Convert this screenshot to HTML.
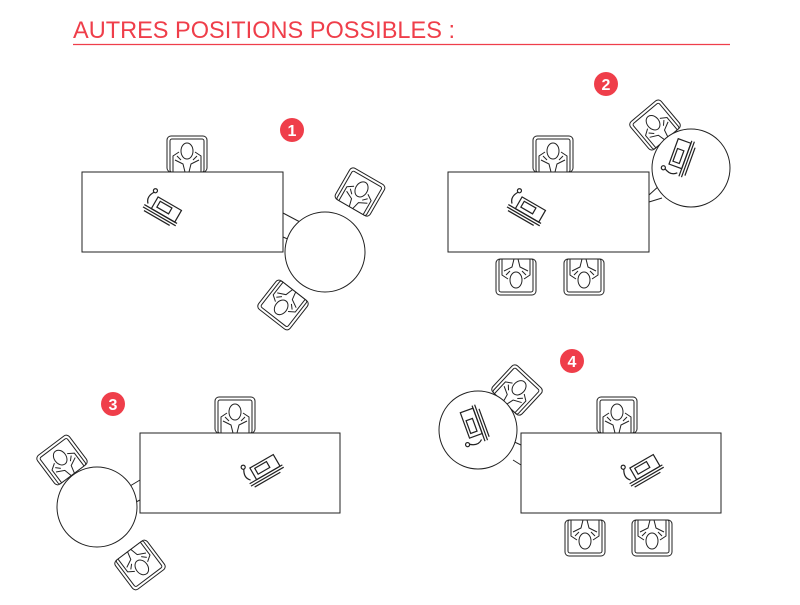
<!DOCTYPE html>
<html><head><meta charset="utf-8"><style>
body{margin:0;background:#fff;width:800px;height:600px;overflow:hidden}
</style></head><body>
<svg width="800" height="600" viewBox="0 0 800 600" xmlns="http://www.w3.org/2000/svg">
<defs>
<g id="ch" fill="#fff" stroke="#222" stroke-width="1">
  <rect x="-20" y="-18" width="40" height="36" rx="4"/>
  <rect x="-17" y="-15" width="34" height="33" rx="2"/>
  <path d="M-14 18 L-14 2 L-8 -2 M14 18 L14 2 L8 -2" fill="none"/>
  <path d="M-12 6 L-4 10 L-2 18 M12 6 L4 10 L2 18" fill="none"/>
  <ellipse cx="0" cy="-3" rx="6" ry="8"/>
  <path d="M-10 2 L-6 6 M10 2 L6 6" fill="none"/>
</g>
<g id="pc" fill="#fff" stroke="#222" stroke-width="0.9">
  <rect x="-6" y="-12" width="20" height="10"/>
  <rect x="-3" y="-10" width="10" height="5"/>
  <path d="M-12 -2 L16 -2 M-12 0 L16 0 M-10 2 L12 2" fill="none"/>
  <path d="M-10 -4 Q-14 -8 -10 -14" fill="none"/>
  <circle cx="-10" cy="-15" r="1.5"/>
</g>
</defs>
<text x="73" y="38" font-family="Liberation Sans, sans-serif" font-size="24" fill="#ef3e4a" textLength="382" lengthAdjust="spacingAndGlyphs">AUTRES POSITIONS POSSIBLES :</text>
<line x1="73" y1="44.5" x2="730" y2="44.5" stroke="#ef3e4a" stroke-width="1.2"/>

<g stroke="#222" stroke-width="1" fill="#fff">
<!-- Panel 1 -->
<use href="#ch" transform="translate(187,154)"/>
<path d="M283 213 L300 222 M283 237 L290 240"/>
<rect x="82" y="172" width="201" height="80"/>
<circle cx="325" cy="252" r="40"/>
<use href="#ch" transform="translate(360,192) rotate(30)"/>
<use href="#ch" transform="translate(283,305) rotate(218)"/>
<use href="#pc" transform="translate(157,215) rotate(30) scale(1.35)"/>

<!-- Panel 2 -->
<use href="#ch" transform="translate(553,154)"/>
<use href="#ch" transform="translate(516,277) rotate(180)"/>
<use href="#ch" transform="translate(584,277) rotate(180)"/>
<use href="#ch" transform="translate(655,125) rotate(-40)"/>
<path d="M649 195 L660 185 M649 202 L662 198"/>
<rect x="448" y="172" width="201" height="80"/>
<circle cx="691" cy="168" r="39"/>
<use href="#pc" transform="translate(521,215) rotate(30) scale(1.35)"/>
<use href="#pc" transform="translate(687,162) rotate(-70) scale(1.35)"/>

<!-- Panel 3 -->
<use href="#ch" transform="translate(235,415)"/>
<path d="M140 480 L130 486 M140 500 L134 503"/>
<rect x="140" y="433" width="200" height="80"/>
<circle cx="97" cy="507" r="40"/>
<use href="#ch" transform="translate(62,460) rotate(-37)"/>
<use href="#ch" transform="translate(140,565) rotate(143)"/>
<use href="#pc" transform="translate(265,478) rotate(-30) scale(1.35)"/>

<!-- Panel 4 -->
<use href="#ch" transform="translate(617,415)"/>
<use href="#ch" transform="translate(585,538) rotate(180)"/>
<use href="#ch" transform="translate(652,538) rotate(180)"/>
<use href="#ch" transform="translate(517,390) rotate(43)"/>
<path d="M521 445 L510 440 M521 465 L513 460"/>
<rect x="521" y="433" width="200" height="80"/>
<circle cx="478" cy="430" r="39"/>
<use href="#pc" transform="translate(645,478) rotate(-30) scale(1.35)"/>
<use href="#pc" transform="translate(482,425) rotate(-110) scale(1.35)"/>
</g>

<g font-family="Liberation Sans, sans-serif" font-size="16" font-weight="bold" fill="#fff" text-anchor="middle">
<circle cx="292" cy="130" r="12" fill="#ef3e4a"/><text x="292" y="136">1</text>
<circle cx="606" cy="84" r="12" fill="#ef3e4a"/><text x="606" y="90">2</text>
<circle cx="113" cy="404" r="12" fill="#ef3e4a"/><text x="113" y="410">3</text>
<circle cx="572" cy="361" r="12" fill="#ef3e4a"/><text x="572" y="367">4</text>
</g>
</svg>
</body></html>
